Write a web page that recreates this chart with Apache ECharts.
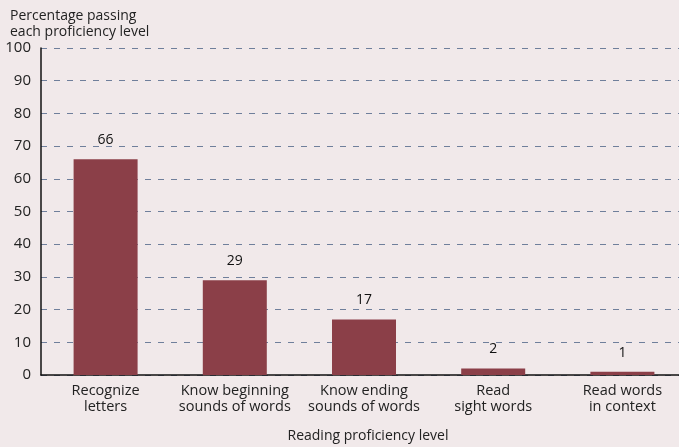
<!DOCTYPE html>
<html>
<head>
<meta charset="utf-8">
<script src="https://cdn.jsdelivr.net/npm/echarts@6/dist/echarts.min.js"></script>
<style>
  html, body { margin: 0; padding: 0; background: #f1e9ea; }
  #chart { width: 679px; height: 447px; }
</style>
</head>
<body>
<div id="chart"></div>
<script>
// 数据
const categories = [
  'Recognize\nletters',
  'Know beginning\nsounds of words',
  'Know ending\nsounds of words',
  'Read\nsight words',
  'Read words\nin context'
]
const values = [66, 29, 17, 2, 1]
const yTicks = [0, 10, 20, 30, 40, 50, 60, 70, 80, 90, 100]

const font = '"Open Sans", "Noto Sans", sans-serif'

const chart = echarts.init(document.getElementById('chart'))

const option = {
  backgroundColor: '#f1e9ea',
  animation: false,
  title: {
    text: 'Percentage passing\neach proficiency level',
    left: 5,
    top: 3,
    textStyle: {
      fontFamily: font,
      fontSize: 14,
      fontWeight: 'normal',
      color: '#222',
      lineHeight: 16
    }
  },
  grid: {
    left: 41,
    right: -8,
    top: 48,
    bottom: 72,
    outerBoundsMode: 'none',
    containLabel: false
  },
  xAxis: {
    type: 'category',
    data: categories,
    name: 'Reading proficiency level',
    nameLocation: 'middle',
    nameGap: 54,
    nameTextStyle: { fontFamily: font, fontSize: 14, color: '#222', padding: [0, 0, 0, 8] },
    axisLine: { lineStyle: { color: '#111', width: 1.5 } },
    axisTick: { show: false },
    axisLabel: {
      fontFamily: font,
      fontSize: 14.5,
      color: '#222',
      lineHeight: 16,
      margin: 8,
      interval: 0
    }
  },
  yAxis: {
    type: 'value',
    min: yTicks[0],
    max: yTicks[yTicks.length - 1],
    interval: 10,
    axisLine: { show: true, lineStyle: { color: '#111', width: 1.5 } },
    axisTick: { show: false },
    axisLabel: {
      fontFamily: font,
      fontSize: 15,
      color: '#222',
      margin: 10
    },
    splitLine: {
      lineStyle: { color: '#6f7f9b', type: [6, 7], width: 1 }
    }
  },
  series: [{
    type: 'bar',
    data: values,
    barWidth: 64,
    itemStyle: { color: '#8b3f48' },
    label: {
      show: true,
      position: 'top',
      distance: 12,
      fontFamily: font,
      fontSize: 14,
      color: '#111'
    }
  }]
}

chart.setOption(option)
</script>
</body>
</html>
